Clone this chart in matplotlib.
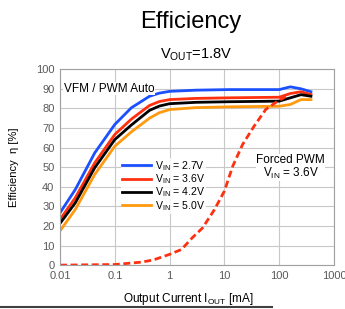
import matplotlib
matplotlib.use("Agg")
import matplotlib.pyplot as plt
from matplotlib.lines import Line2D

plt.rcParams['font.family'] = ['Liberation Sans', 'DejaVu Sans']

## Data
i_out = [0.01, 0.019, 0.043, 0.1, 0.2, 0.43, 0.65, 1, 3, 12, 100, 160, 250, 380]
eff_27 = [26.7, 38.6, 57.3, 71.8, 80.3, 86.2, 87.8, 88.7, 89.3, 89.6, 89.6, 91, 90, 88.5]
eff_36 = [23.3, 34.4, 52.2, 66.7, 74.5, 81.5, 83.5, 84.5, 85.1, 85.4, 85.7, 87.6, 88.5, 87.1]
eff_42 = [21.3, 31.8, 49.7, 64.1, 71.5, 79, 81.2, 82.4, 83.1, 83.4, 83.7, 85.4, 87, 86.2]
eff_50 = [17.5, 28.4, 46.3, 60.7, 68, 75, 77.8, 79.4, 80.4, 80.8, 81.1, 82, 84.5, 84.5]
i_pwm = [0.01, 0.1, 0.3, 0.5, 0.7, 1, 1.65, 2.6, 4, 6.6, 10, 14.2, 21.5, 35, 57, 94, 132]
eff_pwm = [0, 0.3, 1.5, 2.6, 4, 5.5, 8, 14, 19, 28.4, 37.8, 50.5, 61.6, 71, 79.5, 83.7, 86]
labels = ['2.7V', '3.6V', '4.2V', '5.0V']
colors = ['#1a50ff', '#ff3010', '#000000', '#ff9a10']

fig = plt.figure(figsize=(3.45, 3.09), dpi=100)
ax = fig.add_axes([0.174, 0.142, 0.794, 0.634])

series = [eff_27, eff_36, eff_42, eff_50]
for ys, c in zip(series, colors):
    ax.plot(i_out, ys, color=c, lw=2, solid_joinstyle='round')
ax.plot(i_pwm, eff_pwm, color='#ff3010', lw=2, ls=(0, (2.5, 1.3)))

ax.set_xscale('log')
ax.set_xlim(0.01, 1000)
ax.set_ylim(0, 100)
ax.set_xticks([0.01, 0.1, 1, 10, 100, 1000])
ax.set_xticklabels(['0.01', '0.1', '1', '10', '100', '1000'])
ax.set_yticks(range(0, 101, 10))
ax.minorticks_off()
ax.grid(True, color='#c8c8c8', lw=0.8)
ax.set_axisbelow(True)
for s in ax.spines.values():
    s.set_color('#a0a0a0')
    s.set_linewidth(0.8)
ax.tick_params(length=0, labelsize=8, labelcolor='#595959', pad=4)
ax.set_xlabel('Output Current I$_{\\mathregular{OUT}}$ [mA]', fontsize=8.5)
ax.xaxis.set_label_coords(0.467, -0.13)
ax.set_ylabel('Efficiency  η [%]', fontsize=8)
ax.yaxis.set_label_coords(-0.15, 0.5)

handles = [Line2D([0], [0], color=c, lw=2) for c in colors]
leg = ax.legend(handles, ['V$_{\\mathregular{IN}}$ = ' + l for l in labels],
                loc='center left', bbox_to_anchor=(0.222, 0.405), frameon=True,
                fontsize=7.6, handlelength=2.8, handletextpad=0.35,
                labelspacing=-0.05, borderpad=0.1, borderaxespad=0)
leg.get_frame().set_facecolor('white')
leg.get_frame().set_edgecolor('none')

ax.text(0.0118, 90, 'VFM / PWM Auto', fontsize=8.5, va='center', ha='left',
        bbox=dict(facecolor='white', edgecolor='none', pad=0.3))
ax.text(162, 50, 'Forced PWM\nV$_{\\mathregular{IN}}$ = 3.6V', fontsize=8.5,
        ha='center', va='center', linespacing=1.0,
        bbox=dict(facecolor='white', edgecolor='none', pad=0.3))

fig.text(0.553, 0.928, 'Efficiency', fontsize=17, ha='center', va='center')
fig.text(0.57, 0.822, 'V$_{\\mathregular{OUT}}$=1.8V', fontsize=10.5, ha='center', va='center')

fig.add_artist(Line2D([0.0, 0.788], [0.005, 0.005], color='#404040', lw=1.5))

fig.savefig('out.png', dpi=100)
